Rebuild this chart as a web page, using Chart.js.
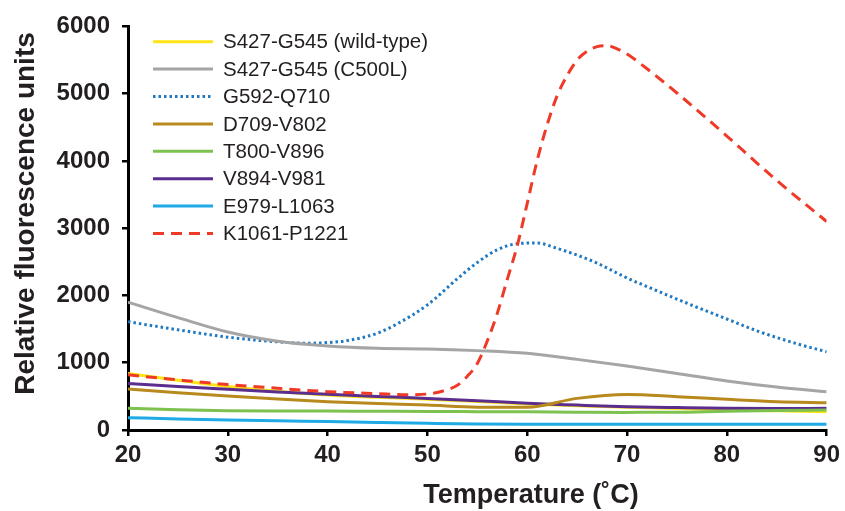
<!DOCTYPE html>
<html>
<head>
<meta charset="utf-8">
<script src="https://cdn.jsdelivr.net/npm/chart.js@4"></script>
<style>
    html, body { margin: 0; padding: 0; background: #fff; }
    canvas { display: block; }
</style>
</head>
<body>
<canvas id="chart" width="845" height="511"></canvas>
<script>
const FONT = "'Liberation Sans', Arial, sans-serif";

// Temperatures (°C)
const temps = [20, 25, 30, 35, 40, 45, 50, 55, 60, 65, 70, 75, 80, 85, 90];
const blueTemps = [20, 25, 30, 35, 38, 40, 42, 45, 47, 50, 53, 55, 57, 59, 61, 63, 65, 67, 70, 73, 77, 80, 83, 87, 90];
const redTemps = [20, 25, 30, 35, 40, 45, 48, 50, 52, 53, 54, 55, 56, 57, 58, 59, 60, 61, 62, 63, 64, 65, 66, 67, 68, 69, 70, 72, 75, 80, 85, 90];

// Relative fluorescence units
const wildType = [842, 740, 645, 575, 520, 485, 458, 425, 388, 362, 340, 320, 300, 285, 272];
const c500l = [1900, 1670, 1456, 1320, 1250, 1215, 1205, 1180, 1140, 1050, 950, 840, 730, 640, 570];
const g592 = [1610, 1490, 1380, 1310, 1290, 1300, 1330, 1440, 1580, 1860, 2250, 2490, 2680, 2770, 2780, 2700, 2600, 2480, 2260, 2070, 1825, 1650, 1475, 1283, 1163];
const d709 = [610, 555, 505, 460, 421, 393, 371, 340, 338, 470, 528, 495, 456, 421, 406];
const t800 = [322, 300, 288, 283, 281, 278, 276, 273, 270, 265, 262, 264, 280, 290, 297];
const v894 = [693, 645, 604, 565, 530, 498, 470, 436, 396, 370, 347, 333, 322, 320, 322];
const e979 = [183, 165, 150, 137, 125, 112, 100, 90, 86, 85, 84, 84, 84, 84, 84];
const k1061 = [820, 745, 675, 620, 570, 540, 525, 535, 600, 665, 800, 990, 1325, 1735, 2240, 2740, 3370, 4010, 4540, 4970, 5270, 5500, 5630, 5700, 5715, 5665, 5590, 5370, 5010, 4370, 3710, 3100];

const xTicks = [20, 30, 40, 50, 60, 70, 80, 90];
const yTicks = [0, 1000, 2000, 3000, 4000, 5000, 6000];
const yTitle = "Relative fluorescence units";
const xTitle = "Temperature (˚C)";

function toPoints(xs, ys) {
    return xs.map((x, i) => ({ x: x, y: ys[i] }));
}

function series(label, xs, ys, color, dash, order) {
    return {
        label: label,
        data: toPoints(xs, ys),
        borderColor: color,
        backgroundColor: color,
        borderWidth: 3,
        borderDash: dash || [],
        pointRadius: 0,
        cubicInterpolationMode: "monotone",
        fill: false,
        order: order || 0
    };
}

const datasets = [
    series("S427-G545 (wild-type)", temps, wildType, "#FFE515", null, 5),
    series("S427-G545 (C500L)", temps, c500l, "#A5A5A5"),
    series("G592-Q710", blueTemps, g592, "#1E78C2", [2.5, 3]),
    series("D709-V802", temps, d709, "#B8891D"),
    series("T800-V896", temps, t800, "#7DC24F"),
    series("V894-V981", temps, v894, "#5A2D8E"),
    series("E979-L1063", temps, e979, "#1DAAE5"),
    series("K1061-P1221", redTemps, k1061, "#EE3A27", [11, 7], -1)
];

// Legend inside the plot (single column, top left) and both axis titles,
// which sit off the axis centres in the original
const decorations = {
    id: "decorations",
    afterDraw(chart) {
        const c = chart.ctx;
        c.save();
        c.font = "20.5px " + FONT;
        c.textBaseline = "middle";
        c.fillStyle = "#231F20";
        chart.data.datasets.forEach((ds, i) => {
            const y = 41.7 + i * 27.4;
            c.beginPath();
            c.setLineDash(ds.borderDash);
            c.strokeStyle = ds.borderColor;
            c.lineWidth = ds.borderWidth;
            c.moveTo(153, y);
            c.lineTo(213, y);
            c.stroke();
            c.setLineDash([]);
            c.fillText(ds.label, 223, y + 1);
        });

        c.font = "bold 27px " + FONT;
        c.textAlign = "center";
        c.textBaseline = "alphabetic";
        c.fillText(xTitle, 531, 503);

        c.translate(26, 213.5);
        c.rotate(-Math.PI / 2);
        c.font = "bold 28px " + FONT;
        c.textBaseline = "middle";
        c.fillText(yTitle, 0, 0);
        c.restore();
    }
};

new Chart(document.getElementById("chart"), {
    type: "line",
    data: { datasets: datasets },
    plugins: [decorations],
    options: {
        responsive: false,
        devicePixelRatio: 1,
        animation: false,
        layout: { padding: { top: 26, right: 14, left: 0, bottom: 0 } },
        plugins: {
            legend: { display: false },
            tooltip: { enabled: false }
        },
        scales: {
            x: {
                type: "linear",
                min: 20,
                max: 90,
                afterFit: (scale) => { scale.height = 81; },
                afterBuildTicks: (scale) => { scale.ticks = xTicks.map(v => ({ value: v })); },
                border: { display: true, color: "#000", width: 3 },
                grid: { drawOnChartArea: false, drawTicks: true, tickLength: 6, color: "#000", lineWidth: 2.5 },
                ticks: {
                    padding: 5,
                    color: "#231F20",
                    callback: (v) => String(v),
                    font: { family: FONT, size: 24, weight: "bold" }
                }
            },
            y: {
                min: 0,
                max: 6000,
                afterFit: (scale) => { scale.width = 128; },
                afterBuildTicks: (scale) => { scale.ticks = yTicks.map(v => ({ value: v })); },
                border: { display: true, color: "#000", width: 3 },
                grid: { drawOnChartArea: false, drawTicks: true, tickLength: 6, color: "#000", lineWidth: 2.5 },
                ticks: {
                    padding: 12,
                    color: "#231F20",
                    callback: (v) => String(v),
                    font: { family: FONT, size: 24, weight: "bold" }
                }
            }
        }
    }
});
</script>
</body>
</html>
